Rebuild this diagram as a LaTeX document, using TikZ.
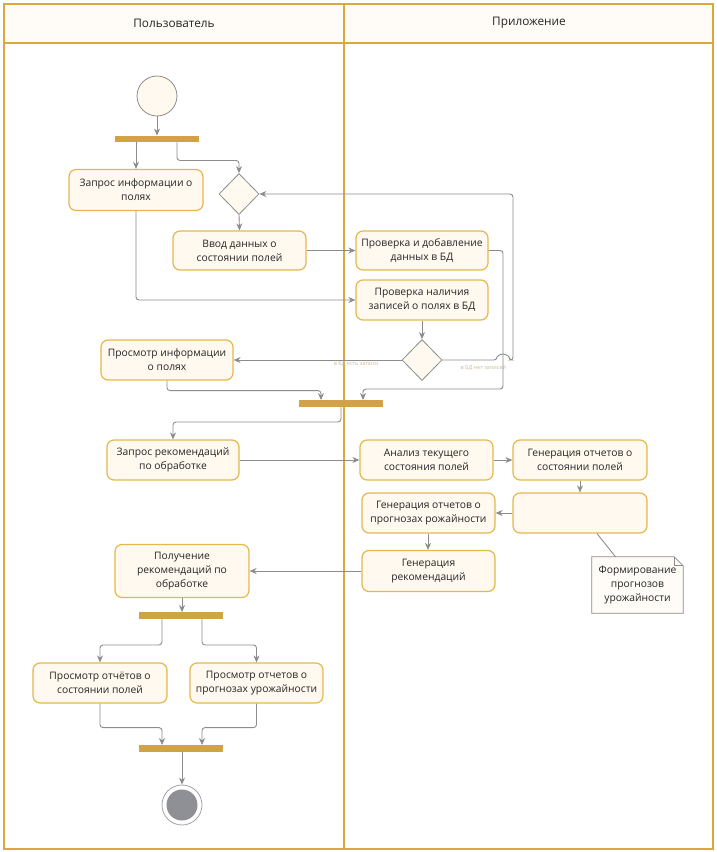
\documentclass[tikz,border=0pt]{standalone}
\usepackage{fontspec}
\setmainfont{Open Sans}
\usetikzlibrary{arrows.meta,shapes.geometric}
\definecolor{lanegold}{HTML}{D9A83F}
\definecolor{boxgold}{HTML}{E6B84C}
\definecolor{boxfill}{HTML}{FFF9F0}
\definecolor{bargold}{HTML}{D1A246}
\definecolor{flowgrey}{HTML}{8C8C8C}
\definecolor{endgrey}{HTML}{8E9095}
\definecolor{txt}{HTML}{262626}
\definecolor{lbltxt}{HTML}{CDBB98}
\tikzset{
  act/.style={draw=boxgold, fill=boxfill, line width=1.2pt, rounded corners=7pt, minimum width=133pt, minimum height=40pt, align=center, inner sep=2pt, text=txt, font=\fontsize{10.3}{14}\selectfont},
  forkbar/.style={fill=bargold, minimum width=84pt, minimum height=6.5pt, inner sep=0pt},
  decision/.style={diamond, draw=flowgrey, fill=boxfill, line width=0.8pt, minimum width=40pt, minimum height=41pt, inner sep=0pt},
  flow/.style={draw=flowgrey, line width=0.9pt, -{Stealth[length=7pt,width=6pt]}},
  guard/.style={text=lbltxt, font=\fontsize{5.5}{6}\selectfont, inner sep=1pt},
  lane/.style={draw=lanegold, line width=1.5pt},
  lanehead/.style={text=txt, font=\fontsize{11.8}{14}\selectfont},
}
\begin{document}
\begin{tikzpicture}[x=1pt,y=-1pt]
\useasboundingbox (0,0) rectangle (717,852);
\fill[white] (0,0) rectangle (717,852);
\fill[boxfill!60] (4,4) rectangle (713,43);
\draw[lane] (4,4) rectangle (713,849);
\draw[lane] (4,43) -- (713,43);
\draw[lane] (344,4) -- (344,849);
\node[lanehead] (userlane) at (174,23) {Пользователь};
\node[lanehead] (applane) at (529,23) {Приложение};

\node[circle, draw=flowgrey, fill=boxfill, line width=0.8pt, minimum size=40pt] (start) at (157,96) {};
\node[forkbar] (bar1) at (157,139) {};
\node[act, minimum width=134pt, minimum height=41pt] (zapros) at (136,190) {Запрос информации о\\полях};
\node[decision] (dec1) at (239,194) {};
\node[act, minimum height=39pt] (vvod) at (239.5,250.5) {Ввод данных о\\состоянии полей};
\node[act, minimum width=132pt, minimum height=39pt] (provdob) at (422,250.5) {Проверка и добавление\\данных в БД};
\node[act, minimum width=132pt] (provnal) at (422,300) {Проверка наличия\\записей о полях в БД};
\node[decision] (dec2) at (422,360) {};
\node[act, minimum width=132pt] (prosminf) at (167,360) {Просмотр информации\\о полях};
\node[forkbar] (bar2) at (341,403.5) {};
\node[act, minimum width=132pt] (zaprosrec) at (173,460) {Запрос рекомендаций\\по обработке};
\node[act] (analiz) at (426.5,460) {Анализ текущего\\состояния полей};
\node[act, minimum width=134pt] (gensost) at (580,460) {Генерация отчетов о\\состоянии полей};
\node[act, minimum width=134pt] (blank) at (580,513) {};
\node[act] (genprog) at (428.5,513) {Генерация отчетов о\\прогнозах рожайности};
\node[act, minimum height=41pt] (genrec) at (428.5,571) {Генерация\\рекомендаций};
\node[act, minimum width=134pt, minimum height=53pt] (poluch) at (182,571) {Получение\\рекомендаций по\\обработке};
\node[forkbar] (bar3) at (181,615.5) {};
\node[act, minimum width=134pt] (prossost) at (100,683) {Просмотр отчётов о\\состоянии полей};
\node[act] (prosprog) at (256.5,683) {Просмотр отчетов о\\прогнозах урожайности};
\node[forkbar] (bar4) at (181,748.5) {};
\node[circle, draw=flowgrey!80, fill=white, line width=0.8pt, minimum size=40pt] (finish) at (182,805) {};
\fill[endgrey] (finish.center) circle[radius=15.5];

\node[minimum width=91pt, minimum height=56pt, align=center, inner sep=0pt, text=txt, font=\fontsize{10.3}{14}\selectfont] (note) at (637.5,585) {Формирование\\прогнозов\\урожайности};
\draw[flowgrey, fill=boxfill!60, line width=0.8pt] (note.north west) -- ([xshift=-9pt]note.north east) -- ([yshift=-9pt]note.north east) -- (note.south east) -- (note.south west) -- cycle;
\draw[flowgrey, line width=0.8pt] ([xshift=-9pt]note.north east) |- ([yshift=-9pt]note.north east);
\node[text=txt, align=center, font=\fontsize{10.3}{14}\selectfont] at (note) {Формирование\\прогнозов\\урожайности};
\draw[flowgrey, line width=0.9pt] ([xshift=-22pt]note.north) -- ([xshift=17pt]blank.south);

\draw[flow] (start.south) -- (bar1.north);
\draw[flow] (bar1.south -| zapros.north) -- (zapros.north);
\draw[flow, rounded corners=3pt] ([xshift=20pt]bar1.south) -- ++(0,18) -| (dec1.north);
\draw[flow] (dec1.south) -- (vvod.north);
\draw[flow] (vvod.east) -- (provdob.west);
\draw[flow, rounded corners=3pt] (zapros.south) |- (provnal.west);
\draw[flow] (provnal.south) -- (dec2.north);
\draw[flow] (dec2.west) -- node[guard, below, pos=0.27] {в БД есть записи} (prosminf.east);
\draw[flow, rounded corners=3pt] (dec2.east) -- node[guard, below=4pt, pos=0.75] {в БД нет записей} (497,360) arc[start angle=180, end angle=360, radius=6] -- (513,360) -- (513,194) -- (dec1.east);
\draw[flow, rounded corners=3pt] (provdob.east) -| (503,389) -| ([xshift=22pt]bar2.north);
\draw[flow, rounded corners=3pt] (prosminf.south) -- ++(0,10) -| ([xshift=-20pt]bar2.north);
\draw[flow, rounded corners=3pt] (bar2.south) -- ++(0,15) -| (zaprosrec.north);
\draw[flow] (zaprosrec.east) -- (analiz.west);
\draw[flow] (analiz.east) -- (gensost.west);
\draw[flow] (gensost.south) -- (blank.north);
\draw[flow] (blank.west) -- (genprog.east);
\draw[flow] (genprog.south -| 428,0) -- (genrec.north -| 428,0);
\draw[flow] (genrec.west) -- (poluch.east);
\draw[flow] (poluch.south) -- (bar3.north -| poluch.south);
\draw[flow, rounded corners=3pt] ([xshift=-19pt]bar3.south) -- ++(0,26) -| (prossost.north);
\draw[flow, rounded corners=3pt] ([xshift=21pt]bar3.south) -- ++(0,26) -| (prosprog.north);
\draw[flow, rounded corners=3pt] (prossost.south) -- ++(0,24) -| ([xshift=-19pt]bar4.north);
\draw[flow, rounded corners=3pt] (prosprog.south) -- ++(0,24) -| ([xshift=21pt]bar4.north);
\draw[flow] (bar4.south -| finish.north) -- (finish.north);
\end{tikzpicture}
\end{document}
